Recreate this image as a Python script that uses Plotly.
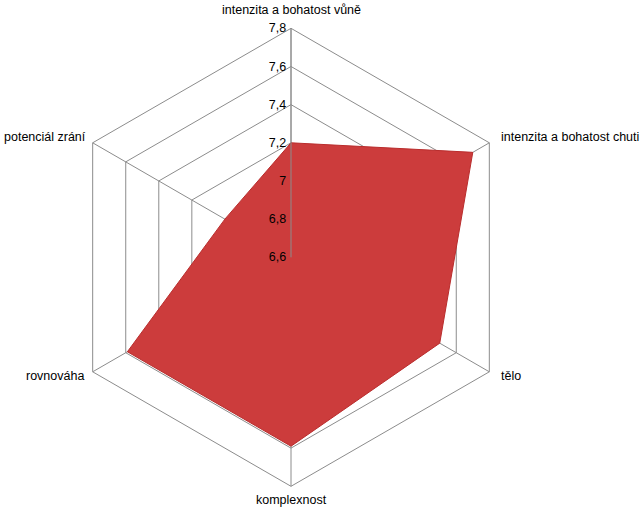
import plotly.graph_objects as go

categories = ["intenzita a bohatost vůně", "intenzita a bohatost chuti", "tělo",
              "komplexnost", "rovnováha", "potenciál zrání"]
values = [7.2, 7.7, 7.5, 7.59, 7.59, 7.0]
tick_vals = [6.6, 6.8, 7.0, 7.2, 7.4, 7.6, 7.8]

W, H = 644, 512
cx, cy, R = 291, 257.3, 229

fig = go.Figure()
fig.add_trace(go.Scatterpolar(
    r=values + values[:1],
    theta=categories + categories[:1],
    mode="lines",
    fill="toself",
    fillcolor="rgb(204,60,60)",
    line=dict(color="rgb(185,45,45)", width=1),
    hoverinfo="skip",
))

grid = "#8c8c8c"
fig.update_layout(
    width=W, height=H,
    margin=dict(l=0, r=0, t=0, b=0),
    paper_bgcolor="white",
    separators=", ",
    showlegend=False,
    font=dict(family="Liberation Sans", size=12.5, color="#000"),
    polar=dict(
        bgcolor="white",
        gridshape="linear",
        domain=dict(x=[(cx - R) / W, (cx + R) / W],
                    y=[(H - cy - R) / H, (H - cy + R) / H]),
        radialaxis=dict(
            range=[6.6, 7.8],
            tickvals=tick_vals,
            angle=90,
            tickangle=90,
            side="counterclockwise",
            showline=True, linecolor=grid, linewidth=1,
            gridcolor=grid, gridwidth=1,
            ticks="",
            tickfont=dict(size=12.5, color="#000"),
        ),
        angularaxis=dict(
            rotation=90,
            direction="clockwise",
            showline=True, linecolor=grid, linewidth=1,
            gridcolor=grid, gridwidth=1,
            ticks="",
            showticklabels=False,
        ),
    ),
)

# category labels placed around the chart
label_pos = [(291, 10, "center"), (499, 137, "left"), (499, 376, "left"),
             (291, 500, "center"), (86, 376, "right"), (88, 137, "right")]
for name, (x, y, al) in zip(categories, label_pos):
    fig.add_annotation(
        x=x / W, y=1 - y / H, xref="paper", yref="paper",
        text=name, showarrow=False, xanchor=al, yanchor="middle",
        font=dict(size=12.5, color="#000"),
    )

fig.write_html("out.html",
               config={"displayModeBar": False, "staticPlot": True},
               post_script="document.body.style.margin='0';document.body.style.overflow='hidden';")
